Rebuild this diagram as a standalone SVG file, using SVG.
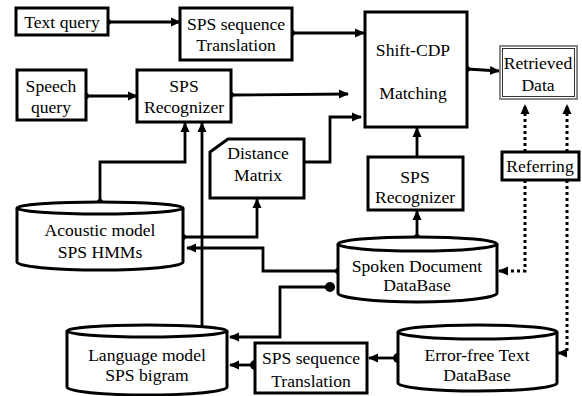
<svg xmlns="http://www.w3.org/2000/svg" width="582" height="396" viewBox="0 0 582 396">
<style>
.box{fill:#fff;stroke:#000;stroke-width:3}
.cyl{fill:#fff;stroke:#000;stroke-width:3}
.c{fill:none;stroke:#000;stroke-width:2.8}
.d{fill:none;stroke:#000;stroke-width:3;stroke-dasharray:3 3}
</style>
<defs>
<marker id="arr" viewBox="0 0 10 10" refX="9" refY="5" markerWidth="10" markerHeight="10" markerUnits="userSpaceOnUse" orient="auto"><path d="M0,0.5 L10,5 L0,9.5 z" fill="#000"/></marker>
<marker id="dot" viewBox="0 0 6 6" refX="3" refY="3" markerWidth="6" markerHeight="6" markerUnits="userSpaceOnUse"><circle cx="3" cy="3" r="3" fill="#000"/></marker>
<marker id="bigdot" viewBox="0 0 10 10" refX="5" refY="5" markerWidth="10" markerHeight="10" markerUnits="userSpaceOnUse"><circle cx="5" cy="5" r="5" fill="#000"/></marker>
</defs>
<rect width="582" height="396" fill="#fff"/>
<g id="connectors">
<path class="c" d="M108,22 L180,22" marker-start="url(#dot)" marker-end="url(#arr)"/>
<path class="c" d="M292,33 L364,33" marker-start="url(#dot)" marker-end="url(#arr)"/>
<path class="c" d="M86,96 L137,96" marker-start="url(#dot)" marker-end="url(#arr)"/>
<path class="c" d="M231,95 L348,94" marker-start="url(#dot)" marker-end="url(#arr)"/>
<path class="c" d="M304,162 L330,162 L330,117 L361,117" marker-end="url(#arr)"/>
<path class="c" d="M467,69 L499,71" marker-start="url(#dot)" marker-end="url(#arr)"/>
<path class="c" d="M417,157 L417,128" marker-end="url(#arr)"/>
<path class="c" d="M417,237 L417,211" marker-start="url(#dot)" marker-end="url(#arr)"/>
<path class="c" d="M100,202 L100,162 L185,162 L185,123" marker-start="url(#dot)" marker-end="url(#arr)"/>
<path class="c" d="M202,330 L202,123" marker-start="url(#dot)" marker-end="url(#arr)"/>
<path class="c" d="M183,237 L257,237 L257,199" marker-start="url(#dot)" marker-end="url(#arr)"/>
<path class="c" d="M338,271 L263,271 L263,248 L187,248" marker-start="url(#dot)" marker-end="url(#arr)"/>
<path class="c" d="M330,287 L280,287 L280,337 L230,337" marker-start="url(#bigdot)" marker-end="url(#arr)"/>
<path class="c" d="M398,358 L369,358" marker-start="url(#bigdot)" marker-end="url(#arr)"/>
<path class="c" d="M255,365 L230,365" marker-start="url(#bigdot)" marker-end="url(#arr)"/>
<path class="d" d="M525,152 L525,105" marker-end="url(#arr)"/>
<path class="d" d="M567,152 L567,105" marker-end="url(#arr)"/>
<path class="d" d="M525,180 L525,271 L499,271" marker-end="url(#arr)"/>
<path class="d" d="M567,180 L567,353 L558,353" marker-end="url(#arr)"/>
</g>

<g id="text-query"><rect class="box" x="16" y="8" width="92" height="27"/><text font-family="Liberation Serif" font-size="17.6" text-anchor="middle" x="62" y="28">Text query</text></g>
<g id="sps-seq-top"><rect class="box" x="180" y="8" width="112" height="52"/><text font-family="Liberation Serif" font-size="17.6" text-anchor="middle" x="236" y="30">SPS sequence</text><text font-family="Liberation Serif" font-size="17.6" text-anchor="middle" x="236" y="51">Translation</text></g>
<g id="speech-query"><rect class="box" x="17" y="70" width="69" height="50"/><text font-family="Liberation Serif" font-size="17.6" text-anchor="middle" x="51" y="92">Speech</text><text font-family="Liberation Serif" font-size="17.6" text-anchor="middle" x="51" y="113">query</text></g>
<g id="sps-rec-top"><rect class="box" x="137" y="70" width="94" height="52"/><text font-family="Liberation Serif" font-size="17.6" text-anchor="middle" x="184" y="92">SPS</text><text font-family="Liberation Serif" font-size="17.6" text-anchor="middle" x="184" y="113">Recognizer</text></g>
<g id="shift-cdp"><rect class="box" x="365" y="12" width="102" height="115"/><text font-family="Liberation Serif" font-size="17.6" text-anchor="middle" x="413" y="56">Shift-CDP</text><text font-family="Liberation Serif" font-size="17.6" text-anchor="middle" x="413" y="99">Matching</text></g>
<g id="retrieved"><rect x="500" y="46" width="77" height="53" fill="#fff" stroke="#888" stroke-width="2"/><rect x="502.5" y="48.5" width="72" height="48" fill="none" stroke="#333" stroke-width="1"/><text font-family="Liberation Serif" font-size="17.6" text-anchor="middle" x="538" y="69">Retrieved</text><text font-family="Liberation Serif" font-size="17.6" text-anchor="middle" x="538" y="91">Data</text></g>
<g id="distance-matrix"><path class="box" d="M228,139 L304,139 L304,198 L210,198 L210,152 Z"/><text font-family="Liberation Serif" font-size="17.6" text-anchor="middle" x="258" y="159">Distance</text><text font-family="Liberation Serif" font-size="17.6" text-anchor="middle" x="258" y="181">Matrix</text></g>
<g id="referring"><rect class="box" x="502" y="152" width="77" height="28"/><text font-family="Liberation Serif" font-size="17.6" text-anchor="middle" x="540" y="172">Referring</text></g>
<g id="sps-rec-bottom"><rect class="box" x="368" y="157" width="95" height="53"/><text font-family="Liberation Serif" font-size="17.6" text-anchor="middle" x="415" y="183">SPS</text><text font-family="Liberation Serif" font-size="17.6" text-anchor="middle" x="415" y="203">Recognizer</text></g>
<g id="acoustic"><path class="cyl" d="M17,208 L17,262 A83,8 0 0 0 183,262 L183,208"/><ellipse class="cyl" cx="100" cy="208" rx="83" ry="6"/><text font-family="Liberation Serif" font-size="17.6" text-anchor="middle" x="100" y="236">Acoustic model</text><text font-family="Liberation Serif" font-size="17.6" text-anchor="middle" x="100" y="258">SPS HMMs</text></g>
<g id="spoken-db"><path class="cyl" d="M338,244 L338,293 A79.5,9 0 0 0 497,293 L497,244"/><ellipse class="cyl" cx="417.5" cy="244" rx="79.5" ry="7"/><text font-family="Liberation Serif" font-size="17.6" text-anchor="middle" x="417" y="272">Spoken Document</text><text font-family="Liberation Serif" font-size="17.6" text-anchor="middle" x="417" y="291">DataBase</text></g>
<g id="language"><path class="cyl" d="M67,331 L67,387 A80,8 0 0 0 227,387 L227,331"/><ellipse class="cyl" cx="147" cy="331" rx="80" ry="6"/><text font-family="Liberation Serif" font-size="17.6" text-anchor="middle" x="147" y="361">Language model</text><text font-family="Liberation Serif" font-size="17.6" text-anchor="middle" x="147" y="381">SPS bigram</text></g>
<g id="sps-seq-bottom"><rect class="box" x="255" y="343" width="112" height="50"/><text font-family="Liberation Serif" font-size="17.6" text-anchor="middle" x="311" y="364">SPS sequence</text><text font-family="Liberation Serif" font-size="17.6" text-anchor="middle" x="311" y="387">Translation</text></g>
<g id="error-free-db"><path class="cyl" d="M398,332 L398,383 A79.5,8 0 0 0 557,383 L557,332"/><ellipse class="cyl" cx="477.5" cy="332" rx="79.5" ry="7"/><text font-family="Liberation Serif" font-size="17.6" text-anchor="middle" x="477" y="361">Error-free Text</text><text font-family="Liberation Serif" font-size="17.6" text-anchor="middle" x="477" y="381">DataBase</text></g>
</svg>
